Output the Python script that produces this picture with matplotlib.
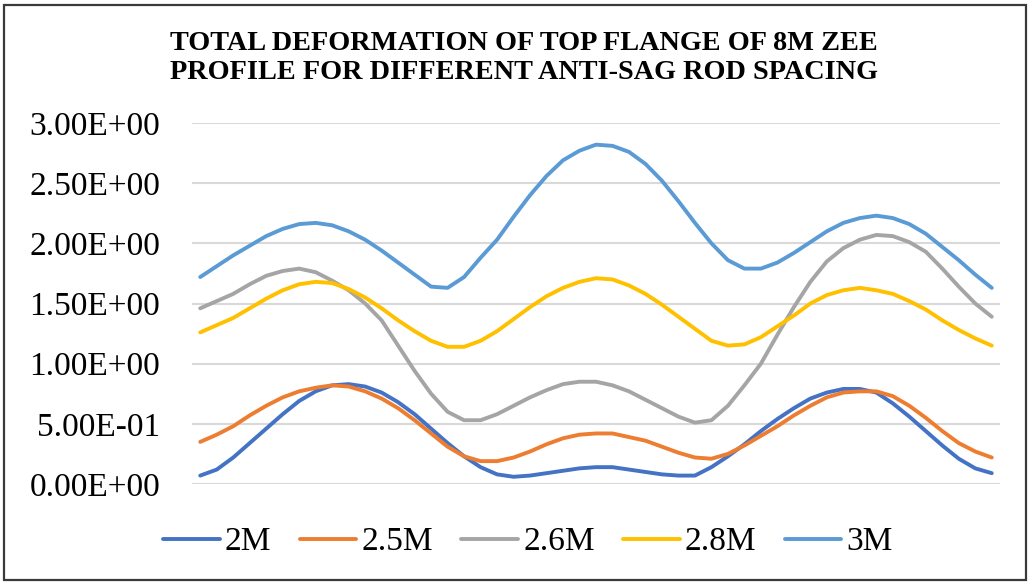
import matplotlib
matplotlib.use('Agg')
import matplotlib.pyplot as plt
import numpy as np
from matplotlib.patches import Rectangle
from matplotlib.ticker import FuncFormatter

plt.rcParams['font.family'] = ['Liberation Serif', 'DejaVu Serif']

# Deformation values along the path (49 points)
d_2m = [0.07, 0.12, 0.22, 0.34, 0.46, 0.58, 0.69, 0.77, 0.82, 0.83,
        0.81, 0.76, 0.68, 0.58, 0.46, 0.34, 0.23, 0.14, 0.08, 0.06,
        0.07, 0.09, 0.11, 0.13, 0.14, 0.14, 0.12, 0.10, 0.08, 0.07,
        0.07, 0.14, 0.23, 0.33, 0.44, 0.54, 0.63, 0.71, 0.76, 0.79,
        0.79, 0.76, 0.67, 0.56, 0.44, 0.32, 0.21, 0.13, 0.09]
d_25m = [0.35, 0.41, 0.48, 0.57, 0.65, 0.72, 0.77, 0.80, 0.82, 0.81,
         0.77, 0.71, 0.63, 0.53, 0.42, 0.31, 0.23, 0.19, 0.19, 0.22,
         0.27, 0.33, 0.38, 0.41, 0.42, 0.42, 0.39, 0.36, 0.31, 0.26,
         0.22, 0.21, 0.25, 0.32, 0.40, 0.48, 0.57, 0.65, 0.72, 0.76,
         0.77, 0.77, 0.73, 0.65, 0.55, 0.44, 0.34, 0.27, 0.22]
d_26m = [1.46, 1.52, 1.58, 1.66, 1.73, 1.77, 1.79, 1.76, 1.69, 1.61,
         1.50, 1.36, 1.15, 0.94, 0.75, 0.60, 0.53, 0.53, 0.58, 0.65,
         0.72, 0.78, 0.83, 0.85, 0.85, 0.82, 0.77, 0.70, 0.63, 0.56,
         0.51, 0.53, 0.65, 0.82, 1.00, 1.24, 1.47, 1.68, 1.85, 1.96,
         2.03, 2.07, 2.06, 2.01, 1.93, 1.79, 1.64, 1.50, 1.39]
d_28m = [1.26, 1.32, 1.38, 1.46, 1.54, 1.61, 1.66, 1.68, 1.67, 1.62,
         1.55, 1.46, 1.36, 1.27, 1.19, 1.14, 1.14, 1.19, 1.27, 1.37,
         1.47, 1.56, 1.63, 1.68, 1.71, 1.70, 1.65, 1.58, 1.49, 1.39,
         1.29, 1.19, 1.15, 1.16, 1.22, 1.31, 1.40, 1.50, 1.57, 1.61,
         1.63, 1.61, 1.58, 1.52, 1.45, 1.36, 1.28, 1.21, 1.15]
d_3m = [1.72, 1.81, 1.90, 1.98, 2.06, 2.12, 2.16, 2.17, 2.15, 2.10,
        2.03, 1.94, 1.84, 1.74, 1.64, 1.63, 1.72, 1.88, 2.03, 2.22,
        2.40, 2.56, 2.69, 2.77, 2.82, 2.81, 2.76, 2.66, 2.52, 2.35,
        2.17, 2.00, 1.86, 1.79, 1.79, 1.84, 1.92, 2.01, 2.10, 2.17,
        2.21, 2.23, 2.21, 2.16, 2.08, 1.97, 1.86, 1.74, 1.63]

series = [('2M', d_2m, '#4472C4'),
          ('2.5M', d_25m, '#ED7D31'),
          ('2.6M', d_26m, '#A5A5A5'),
          ('2.8M', d_28m, '#FFC000'),
          ('3M', d_3m, '#5B9BD5')]
yticks = [0.0, 0.5, 1.0, 1.5, 2.0, 2.5, 3.0]

W, H = 1031, 583
fig = plt.figure(figsize=(W / 100, H / 100), dpi=100)
ax = fig.add_axes([192 / W, 1 - 484 / H, 808 / W, 361 / H])

for name, vals, col in series:
    x = np.arange(len(vals))
    ax.plot(x, vals, color=col, linewidth=2.8, label=name, solid_capstyle='round')

ax.set_xlim(-0.5, len(d_2m) - 0.5)
ax.set_ylim(0, 3.0)
ax.set_yticks(yticks)
ax.yaxis.set_major_formatter(FuncFormatter(lambda v, p: f'{v:.2E}'))
ax.set_xticks([])
ax.tick_params(axis='y', length=0, pad=23, labelsize=24)
ax.grid(True, axis='y', color='#D9D9D9', linewidth=1.5)
ax.set_axisbelow(True)
for s in ax.spines.values():
    s.set_visible(False)

# title, two centred lines
fig.text(524 / W, 1 - 50.5 / H, 'TOTAL DEFORMATION OF TOP FLANGE OF 8M ZEE',
         ha='center', va='baseline', fontsize=20.3, fontweight='bold')
fig.text(524 / W, 1 - 79 / H, 'PROFILE FOR DIFFERENT ANTI-SAG ROD SPACING',
         ha='center', va='baseline', fontsize=20.3, fontweight='bold')

ax.legend(loc='center', bbox_to_anchor=(528 / W, 1 - 542 / H), bbox_transform=fig.transFigure,
          ncol=5, frameon=False, fontsize=24, handlelength=1.7, handletextpad=0.15,
          columnspacing=0.85)

fig.patches.append(Rectangle((4 / W, 3 / H), 1022 / W, 575 / H,
                             transform=fig.transFigure, fill=False,
                             edgecolor='#3A3A3A', linewidth=1.6))

plt.savefig('out.png', dpi=100)
